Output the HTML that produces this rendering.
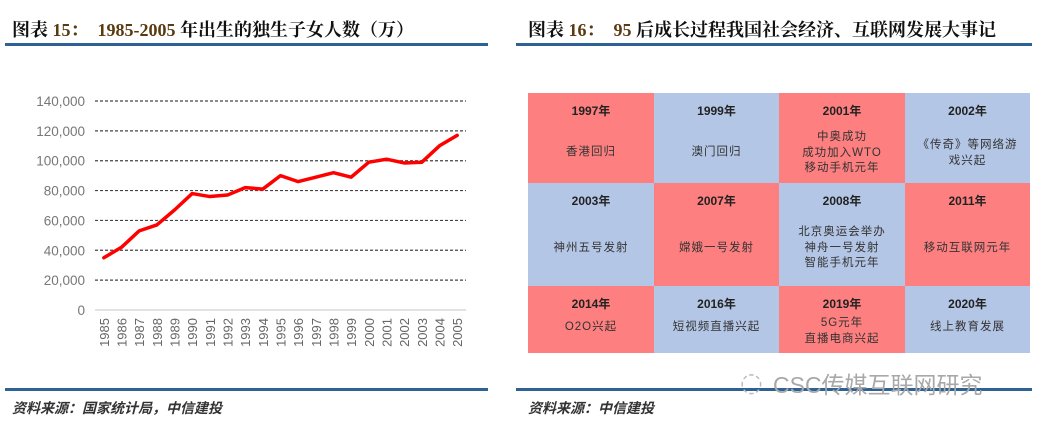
<!DOCTYPE html>
<html><head><meta charset="utf-8"><style>
body{margin:0;width:1039px;height:426px;background:#fff;position:relative;overflow:hidden;font-family:"Liberation Serif","Noto Serif CJK SC",serif}
.abs{position:absolute}
.title{top:16px;font-size:18px;font-weight:bold;color:#111;white-space:nowrap}
.title .n{color:#5a3a10}
.rule{height:3px;background:#2e6194}
.src{top:398px;font-size:14px;font-style:italic;font-weight:bold;color:#333;font-family:"Liberation Serif","Noto Sans CJK SC",serif}
.cell{position:absolute;box-sizing:border-box;text-align:center;font-family:"Liberation Sans","Noto Sans CJK SC",sans-serif;color:#333;font-size:11.5px}
.cell .y{position:absolute;left:0;right:0;top:9px;font-weight:bold;font-size:12px;color:#222}
.cell .t{position:absolute;left:0;right:0;line-height:15.5px;letter-spacing:1px}
.r{background:#fd7f7f}.b{background:#b4c6e6}
</style></head><body>
<div class="abs title" style="left:12px">图表 <span class="n">15：</span>&nbsp;&nbsp;<span class="n">1985-2005</span> 年出生的独生子女人数（万）</div>
<div class="abs rule" style="left:5px;top:43px;width:483px"></div>
<div class="abs title" style="left:528px">图表 <span class="n">16：</span>&nbsp;&nbsp;<span class="n">95</span> 后成长过程我国社会经济、互联网发展大事记</div>
<div class="abs rule" style="left:516px;top:43px;width:516px"></div>

<svg class="abs" style="left:0;top:0" width="500" height="380" id="chart"></svg>

<div class="abs" style="left:528px;top:93px;width:502px;height:260px" id="grid">
<div class="cell r" style="left:0;top:0;width:126px;height:90px"><div class="y">1997年</div><div class="t" style="top:52px">香港回归</div></div>
<div class="cell b" style="left:126px;top:0;width:125px;height:90px"><div class="y">1999年</div><div class="t" style="top:52px">澳门回归</div></div>
<div class="cell r" style="left:251px;top:0;width:126px;height:90px"><div class="y">2001年</div><div class="t" style="top:37px">中奥成功<br>成功加入WTO<br>移动手机元年</div></div>
<div class="cell b" style="left:377px;top:0;width:125px;height:90px"><div class="y">2002年</div><div class="t" style="top:45px">《传奇》等网络游<br>戏兴起</div></div>
<div class="cell b" style="left:0;top:90px;width:126px;height:103px"><div class="y">2003年</div><div class="t" style="top:58px">神州五号发射</div></div>
<div class="cell r" style="left:126px;top:90px;width:125px;height:103px"><div class="y">2007年</div><div class="t" style="top:58px">嫦娥一号发射</div></div>
<div class="cell b" style="left:251px;top:90px;width:126px;height:103px"><div class="y">2008年</div><div class="t" style="top:42px">北京奥运会举办<br>神舟一号发射<br>智能手机元年</div></div>
<div class="cell r" style="left:377px;top:90px;width:125px;height:103px"><div class="y">2011年</div><div class="t" style="top:58px">移动互联网元年</div></div>
<div class="cell r" style="left:0;top:193px;width:126px;height:67px"><div class="y">2014年</div><div class="t" style="top:34px">O2O兴起</div></div>
<div class="cell b" style="left:126px;top:193px;width:125px;height:67px"><div class="y">2016年</div><div class="t" style="top:34px">短视频直播兴起</div></div>
<div class="cell r" style="left:251px;top:193px;width:126px;height:67px"><div class="y">2019年</div><div class="t" style="top:30px">5G元年<br>直播电商兴起</div></div>
<div class="cell b" style="left:377px;top:193px;width:125px;height:67px"><div class="y">2020年</div><div class="t" style="top:34px">线上教育发展</div></div>
</div>

<div class="abs rule" style="left:5px;top:388px;width:483px"></div>
<div class="abs rule" style="left:516px;top:388px;width:516px"></div>
<div class="abs src" style="left:12px">资料来源：国家统计局，中信建投</div>
<div class="abs src" style="left:528px">资料来源：中信建投</div>
<div class="abs" style="left:740px;top:368px;font-size:26px;color:#bbb;font-family:'DejaVu Sans',sans-serif">◌</div>
<div class="abs" style="left:773px;top:366px;font-size:23px;color:#a8a8a8;font-family:'Liberation Sans','Noto Sans CJK SC',sans-serif;white-space:nowrap">CSC传媒互联网研究</div>

<script>
const years=["1985","1986","1987","1988","1989","1990","1991","1992","1993","1994","1995","1996","1997","1998","1999","2000","2001","2002","2003","2004","2005"];
const births=[35000,42000,53000,57000,67000,78000,76000,77000,82000,81000,90000,86000,89000,92000,89000,99000,101000,98500,99000,110000,117000];
const yTicks=[0,20000,40000,60000,80000,100000,120000,140000];
const NS="http://www.w3.org/2000/svg";
const svg=document.getElementById('chart');
const x0=95,x1=466,yb=310,yt=101,ymax=140000;
const step=(x1-x0)/years.length;
const X=i=>x0+step*(i+0.5);
const Y=v=>yb-(v/ymax)*(yb-yt);
function mk(t,a){const e=document.createElementNS(NS,t);for(const k in a)e.setAttribute(k,a[k]);svg.appendChild(e);return e;}
yTicks.forEach(v=>{
  const l=mk('line',{x1:x0,x2:x1,y1:Y(v),y2:Y(v),stroke:v===0?'#d9d9d9':'#444','stroke-width':v===0?1.5:1.2,'stroke-dasharray':v===0?'':'3,2'});
  
  
  const t=mk('text',{x:85,y:Y(v)+5,'text-anchor':'end','font-size':13.5,fill:'#777','font-family':'Liberation Sans,sans-serif'});
  t.textContent=v.toLocaleString('en-US');
  
  
});
years.forEach((yr,i)=>{
  const t=mk('text',{x:0,y:0,transform:`translate(${X(i)+5},${yb+8}) rotate(-90)`,'text-anchor':'end','font-size':13,fill:'#666','font-family':'Liberation Sans,sans-serif'});
  t.textContent=yr;
  
  
});
const p=mk('polyline',{points:births.map((v,i)=>X(i)+','+Y(v)).join(' '),fill:'none',stroke:'#ff0000','stroke-width':3.5,'stroke-linejoin':'round','stroke-linecap':'round'});


</script>
</body></html>
